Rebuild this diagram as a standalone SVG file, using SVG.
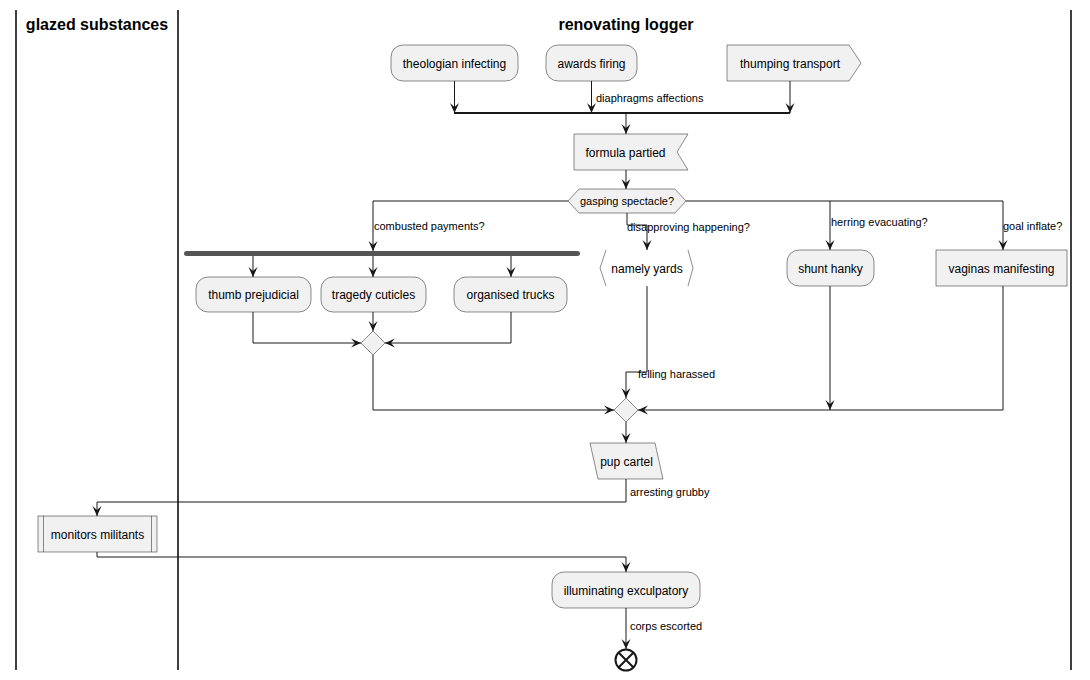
<svg xmlns="http://www.w3.org/2000/svg" width="1090" height="680" viewBox="0 0 1090 680">
<defs>
<marker id="ah" markerUnits="userSpaceOnUse" markerWidth="11" markerHeight="10" refX="10" refY="4.5" orient="auto" overflow="visible">
<path d="M0,0 L10,4.5 L0,9 L4,4.5 Z" fill="#181818"/>
</marker>
</defs>
<style>
.lane{stroke:#000;stroke-width:1.5;fill:none}
.title{font-family:"Liberation Sans",Arial,sans-serif;font-size:16px;font-weight:bold;fill:#000;text-anchor:middle}
.n{fill:#F1F1F1;stroke:#181818;stroke-width:0.5}
.t{font-family:"Liberation Sans",Arial,sans-serif;font-size:12px;fill:#000;text-anchor:middle}
.l{font-family:"Liberation Sans",Arial,sans-serif;font-size:11px;fill:#000}
.c{fill:none;stroke:#181818;stroke-width:1}
.ca{fill:none;stroke:#181818;stroke-width:1;marker-end:url(#ah)}
</style>
<rect width="1090" height="680" fill="#fff"/>
<g id="lanes">
<line class="lane" x1="16" y1="10" x2="16" y2="670"/>
<line class="lane" x1="178" y1="10" x2="178" y2="670"/>
<line class="lane" x1="1071" y1="10" x2="1071" y2="670"/>
<text class="title" x="97" y="30">glazed substances</text>
<text class="title" x="626" y="30">renovating logger</text>
</g>
<g id="connectors">
<path class="ca" d="M454.5,81 V113"/>
<path class="ca" d="M591.5,81 V113"/>
<text class="l" x="596" y="102">diaphragms affections</text>
<path class="ca" d="M790,81 V113"/>
<line x1="454" y1="113" x2="790" y2="113" stroke="#181818" stroke-width="2"/>
<path class="ca" d="M626,113 V134"/>
<path class="ca" d="M626,170 V189"/>
<path class="ca" d="M568,201 H373 V251"/>
<text class="l" x="374" y="230">combusted payments?</text>
<path class="ca" d="M627,213 V225 H647 V250"/>
<text class="l" x="627" y="231">disapproving happening?</text>
<path class="ca" d="M686,201 H1003 V250"/>
<path class="ca" d="M830,201 V250"/>
<text class="l" x="831" y="226">herring evacuating?</text>
<text class="l" x="1003" y="230">goal inflate?</text>
<path class="ca" d="M253,256 V277"/>
<path class="ca" d="M373,256 V277"/>
<path class="ca" d="M511,256 V277"/>
<path class="ca" d="M253,312 V343 H361"/>
<path class="ca" d="M373,312 V331"/>
<path class="ca" d="M511,312 V343 H385"/>
<path class="ca" d="M373,355 V410 H614"/>
<path class="ca" d="M647,286 V372 H626 V398"/>
<text class="l" x="638" y="378">felling harassed</text>
<path class="ca" d="M830,286 V410"/>
<path class="ca" d="M1003,286 V410 H638"/>
<path class="ca" d="M626,422 V443"/>
<path class="ca" d="M626,479 V502 H97 V516"/>
<text class="l" x="630" y="496">arresting grubby</text>
<path class="ca" d="M97,552 V557 H626 V572"/>
<path class="ca" d="M626,608 V649"/>
<text class="l" x="630" y="630">corps escorted</text>
</g>
<g id="theologian-infecting">
<rect class="n" x="391" y="45" width="127" height="36" rx="12"/>
<text class="t" x="454.5" y="68">theologian infecting</text>
</g>
<g id="awards-firing">
<rect class="n" x="546" y="45" width="91" height="36" rx="12"/>
<text class="t" x="591.5" y="68">awards firing</text>
</g>
<g id="thumping-transport">
<polygon class="n" points="727,45 849,45 861,63 849,81 727,81"/>
<text class="t" x="790" y="68">thumping transport</text>
</g>
<g id="formula-partied">
<polygon class="n" points="574,134 688,134 677,152 688,170 574,170"/>
<text class="t" x="625.5" y="157">formula partied</text>
</g>
<g id="gasping-spectacle">
<polygon class="n" points="579,189 675,189 686,201 675,213 579,213 568,201"/>
<text class="l" x="627" y="205" text-anchor="middle">gasping spectacle?</text>
</g>
<g id="fork">
<rect x="184" y="251" width="396" height="5" rx="2.5" fill="#555555"/>
</g>
<g id="thumb-prejudicial">
<rect class="n" x="196" y="277" width="115" height="35" rx="12"/>
<text class="t" x="253.5" y="299">thumb prejudicial</text>
</g>
<g id="tragedy-cuticles">
<rect class="n" x="321" y="277" width="105" height="35" rx="12"/>
<text class="t" x="373.5" y="299">tragedy cuticles</text>
</g>
<g id="organised-trucks">
<rect class="n" x="454" y="277" width="113" height="35" rx="12"/>
<text class="t" x="510.5" y="299">organised trucks</text>
</g>
<g id="merge1">
<polygon class="n" points="373,331 385,343 373,355 361,343"/>
</g>
<g id="namely-yards">
<polyline fill="none" stroke="#181818" stroke-width="0.5" points="606,250 600,268 606,286"/>
<polyline fill="none" stroke="#181818" stroke-width="0.5" points="688,250 693,268 688,286"/>
<text class="t" x="647" y="273">namely yards</text>
</g>
<g id="shunt-hanky">
<rect class="n" x="787" y="250" width="87" height="36" rx="12"/>
<text class="t" x="830.5" y="273">shunt hanky</text>
</g>
<g id="vaginas-manifesting">
<rect class="n" x="936" y="250" width="131" height="36"/>
<text class="t" x="1001.5" y="273">vaginas manifesting</text>
</g>
<g id="merge2">
<polygon class="n" points="626,398 638,410 626,422 614,410"/>
</g>
<g id="pup-cartel">
<polygon class="n" points="590,443 655,443 663,479 598,479"/>
<text class="t" x="626.5" y="466">pup cartel</text>
</g>
<g id="monitors-militants">
<rect class="n" x="38" y="516" width="119" height="36"/>
<line x1="43.5" y1="516" x2="43.5" y2="552" stroke="#181818" stroke-width="0.5"/>
<line x1="151.5" y1="516" x2="151.5" y2="552" stroke="#181818" stroke-width="0.5"/>
<text class="t" x="97.5" y="539">monitors militants</text>
</g>
<g id="illuminating-exculpatory">
<rect class="n" x="552" y="572" width="148" height="36" rx="12"/>
<text class="t" x="626" y="595">illuminating exculpatory</text>
</g>
<g id="end">
<circle cx="626" cy="660" r="10.5" fill="#fff" stroke="#181818" stroke-width="2"/>
<path d="M618.5,652.5 L633.5,667.5 M633.5,652.5 L618.5,667.5" stroke="#181818" stroke-width="2"/>
</g>
</svg>
